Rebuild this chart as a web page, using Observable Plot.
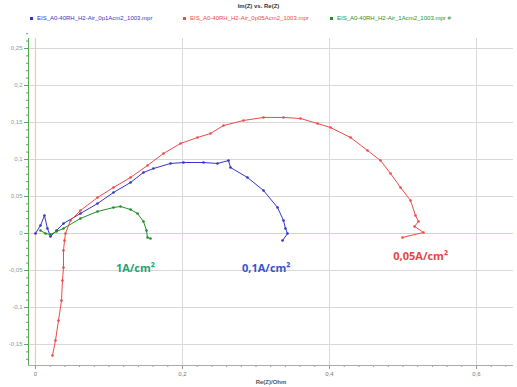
<!DOCTYPE html>
<html>
<head>
<meta charset="utf-8">
<script src="https://cdn.jsdelivr.net/npm/d3@7"></script>
<script src="https://cdn.jsdelivr.net/npm/@observablehq/plot@0.6"></script>
<style>
  html, body { margin: 0; padding: 0; background: #fff; }
  body { width: 517px; height: 387px; overflow: hidden; font-family: "Liberation Sans", Arial, sans-serif; }
  #head { height: 28px; position: relative; }
  #title { position: absolute; top: 3px; left: 0; width: 517px; text-align: center; font-size: 6px; font-weight: bold; color: #333; }
  #legend { position: absolute; top: 15px; left: 30px; font-size: 6px; white-space: nowrap; }
  #legend span.item { position: absolute; top: 0; }
  #legend span.mk { display: inline-block; width: 3px; height: 3px; margin-right: 4px; vertical-align: middle; }
</style>
</head>
<body>
<div id="head"><div id="title"></div><div id="legend"></div></div>
<div id="chart"></div>
<script>
const title = "Im(Z) vs. Re(Z)";
const xLabel = "Re(Z)/Ohm";
const seriesNames = [
  "EIS_A0-40RH_H2-Air_0p1Acm2_1003.mpr",
  "EIS_A0-40RH_H2-Air_0p05Acm2_1003.mpr",
  "EIS_A0-40RH_H2-Air_1Acm2_1003.mpr #"
];
const seriesColors = ["#3535c8", "#ee4a4a", "#1f8f2a"];

// 0.1 A/cm2 (blue)
const blueRe = [0, 0.0068, 0.0122, 0.0163, 0.0204, 0.0286, 0.0381, 0.0612, 0.0844, 0.1061, 0.1293, 0.1469, 0.1605, 0.1837, 0.2014, 0.2286, 0.2476, 0.2626, 0.2653, 0.2884, 0.3102, 0.3293, 0.3374, 0.3401, 0.3429, 0.3361];
const blueIm = [0, 0.0108, 0.0243, 0.0068, -0.0041, 0.0041, 0.0135, 0.0270, 0.0405, 0.0554, 0.0689, 0.0824, 0.0878, 0.0946, 0.0959, 0.0959, 0.0946, 0.0986, 0.0892, 0.0757, 0.0581, 0.0351, 0.0176, 0.0068, 0, -0.0095];

// 0.05 A/cm2 (red)
const redRe = [0.0231, 0.0272, 0.0313, 0.0354, 0.0367, 0.0381, 0.0381, 0.0395, 0.0408, 0.0476, 0.0612, 0.0844, 0.1061, 0.1293, 0.1524, 0.1741, 0.1973, 0.2204, 0.2381, 0.2558, 0.2830, 0.3102, 0.3374, 0.3605, 0.3837, 0.4014, 0.4286, 0.4517, 0.4694, 0.4830, 0.4966, 0.5102, 0.5170, 0.5211, 0.5156, 0.5279, 0.4993];
const redIm = [-0.1649, -0.1446, -0.1176, -0.0905, -0.0635, -0.0459, -0.0230, -0.0095, 0, 0.0176, 0.0311, 0.0486, 0.0622, 0.0757, 0.0919, 0.1081, 0.1216, 0.1297, 0.1351, 0.1459, 0.1527, 0.1568, 0.1568, 0.1554, 0.1486, 0.1432, 0.1297, 0.1122, 0.0986, 0.0811, 0.0622, 0.0446, 0.0243, 0.0162, 0.0095, 0.0014, -0.0054];

// 1 A/cm2 (green)
const greenRe = [0.0068, 0.0136, 0.0204, 0.0286, 0.0381, 0.0612, 0.0844, 0.1061, 0.1156, 0.1293, 0.1388, 0.1469, 0.1510, 0.1524, 0.1565];
const greenIm = [0.0041, 0, -0.0014, 0.0027, 0.0068, 0.0203, 0.0297, 0.0351, 0.0365, 0.0324, 0.0270, 0.0162, 0.0041, -0.0054, -0.0068];

const xTicks = [0, 0.2, 0.4, 0.6];
const xTickLabels = ["0", "0,2", "0,4", "0,6"];
const yTicks = [-0.15, -0.1, -0.05, 0, 0.05, 0.1, 0.15, 0.2, 0.25];
const yTickLabels = ["-0,15", "-0,1", "-0,05", "0", "0,05", "0,1", "0,15", "0,2", "0,25"];

const annoText = ["1A/cm²", "0,1A/cm²", "0,05A/cm²"];
const annoRe = [0.136, 0.314, 0.524];
const annoIm = [-0.047, -0.047, -0.031];
const annoColors = ["#1ea574", "#3555cc", "#e84545"];

// header
document.getElementById("title").textContent = title;
const leg = document.getElementById("legend");
const legX = [0, 153, 300];
seriesNames.forEach((n, i) => {
  const s = document.createElement("span");
  s.className = "item";
  s.style.left = legX[i] + "px";
  s.style.color = seriesColors[i];
  s.innerHTML = `<span class="mk" style="background:${seriesColors[i]}"></span>` + n;
  leg.appendChild(s);
});

const series = [
  {re: blueRe, im: blueIm},
  {re: redRe, im: redIm},
  {re: greenRe, im: greenIm}
];
const pts = series.flatMap((s, k) => s.re.map((r, i) => ({re: r, im: s.im[i], name: seriesNames[k]})));
const annos = annoText.map((t, i) => ({t, re: annoRe[i], im: annoIm[i], c: annoColors[i]}));

const xDom = [-0.0095, 0.6503];
const yDom = [-0.1784, 0.2635];
const xMinor = d3.range(0, 0.66, 0.02);
const yMinor = d3.range(-0.17, 0.27, 0.01);

const fmtX = d => xTickLabels[xTicks.findIndex(v => Math.abs(v - d) < 1e-9)];
const fmtY = d => yTickLabels[yTicks.findIndex(v => Math.abs(v - d) < 1e-9)];

const chart = Plot.plot({
  width: 517,
  height: 359,
  marginTop: 10,
  marginBottom: 22,
  marginLeft: 28,
  marginRight: 4,
  style: {fontFamily: "Liberation Sans, Arial, sans-serif", fontSize: "6px", background: "#fff"},
  x: {domain: xDom, label: null},
  y: {domain: yDom, label: null},
  color: {domain: seriesNames, range: seriesColors},
  marks: [
    Plot.gridY(yTicks, {stroke: "#d8d8d8", strokeOpacity: 1}),
    Plot.gridX(xTicks, {stroke: "#d8d8d8", strokeOpacity: 1}),
    Plot.ruleX([0], {stroke: "#f7c9a0", strokeWidth: 1.2}),
    Plot.ruleY([0], {stroke: "#f7c9a0", strokeWidth: 1.2}),
    Plot.axisY(yMinor, {tickSize: 2, tickFormat: () => "", stroke: "#58a858", label: null}),
    Plot.axisY(yTicks, {tickSize: 4, tickPadding: 2, tickFormat: fmtY, stroke: "#58a858", fill: "#8a9a9a", label: null}),
    Plot.axisX(xMinor, {tickSize: 2, tickFormat: () => "", stroke: "#999", label: null}),
    Plot.axisX(xTicks, {tickSize: 4, tickPadding: 2, tickFormat: fmtX, stroke: "#999", fill: "#777", label: null}),
    Plot.text([xLabel], {frameAnchor: "bottom", dy: 18, fill: "#555", fontWeight: "bold", fontSize: 6}),
    Plot.ruleX([xDom[0]], {stroke: "#58a858", strokeWidth: 1}),
    Plot.ruleY([yDom[0]], {stroke: "#aaa", strokeWidth: 1}),
    Plot.line(pts, {x: "re", y: "im", z: "name", stroke: "name", strokeWidth: 1}),
    Plot.dot(pts, {x: "re", y: "im", fill: "name", r: 1.3}),
    Plot.text(annos, {x: "re", y: "im", text: "t", fill: "c", fontSize: 11, fontWeight: "bold", fontFamily: "Open Sans, sans-serif"})
  ]
});
document.getElementById("chart").appendChild(chart);
</script>
</body>
</html>
